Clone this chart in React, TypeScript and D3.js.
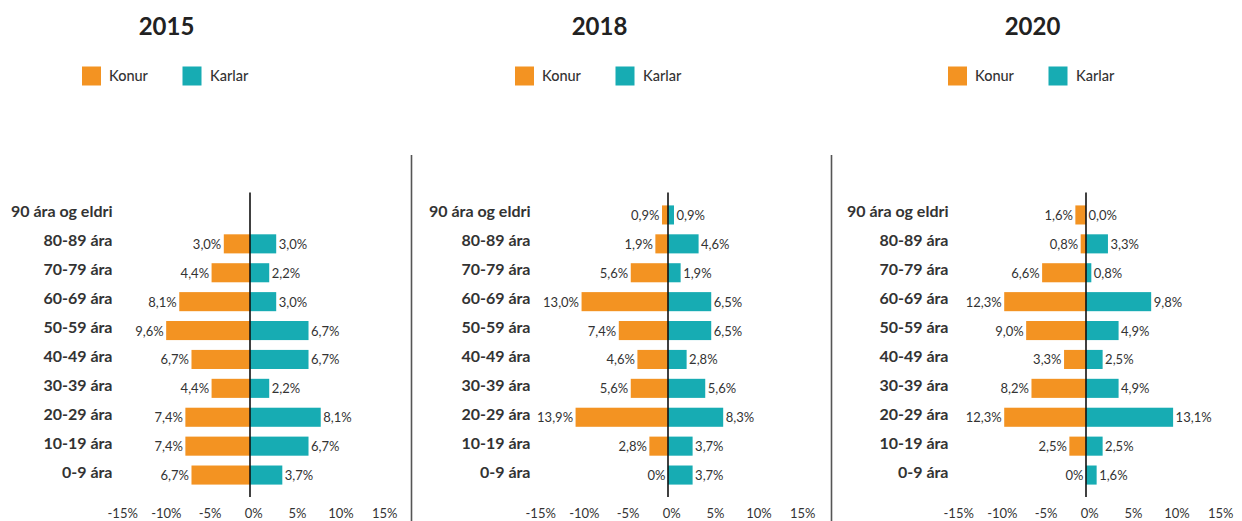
import React from "react";
import * as d3 from "d3";

const categories = [
  "90 ára og eldri",
  "80-89 ára",
  "70-79 ára",
  "60-69 ára",
  "50-59 ára",
  "40-49 ára",
  "30-39 ára",
  "20-29 ára",
  "10-19 ára",
  "0-9 ára",
];

const years = ["2015", "2018", "2020"];
const seriesNames = ["Konur", "Karlar"];

const women2015: (number | null)[] = [null, 3.0, 4.4, 8.1, 9.6, 6.7, 4.4, 7.4, 7.4, 6.7];
const men2015: (number | null)[] = [null, 3.0, 2.2, 3.0, 6.7, 6.7, 2.2, 8.1, 6.7, 3.7];
const women2018: (number | null)[] = [0.9, 1.9, 5.6, 13.0, 7.4, 4.6, 5.6, 13.9, 2.8, 0];
const men2018: (number | null)[] = [0.9, 4.6, 1.9, 6.5, 6.5, 2.8, 5.6, 8.3, 3.7, 3.7];
const women2020: (number | null)[] = [1.6, 0.8, 6.6, 12.3, 9.0, 3.3, 8.2, 12.3, 2.5, 0];
const men2020: (number | null)[] = [0.0, 3.3, 0.8, 9.8, 4.9, 2.5, 4.9, 13.1, 2.5, 1.6];

// bar scale extent per panel (as drawn in the source)
const barExtent = [15, 19.7, 19.7];
const tickValues = [-15, -10, -5, 0, 5, 10, 15];

const womenData = [women2015, women2018, women2020];
const menData = [men2015, men2018, men2020];

const ORANGE = "#F39322";
const TEAL = "#17ACB3";
const TEXT = "#333333";
const FONT = "Lato, 'Open Sans', sans-serif";

const fmt = d3.format(".1f");
const label = (v: number, women: boolean) =>
  v === 0 && women ? "0%" : fmt(v).replace(".", ",") + "%";

function Panel({ idx }: { idx: number }) {
  const dx = idx * 418;
  const tdx = idx * 433;
  const zero = 250 + dx;
  const x = d3
    .scaleLinear()
    .domain([-barExtent[idx], barExtent[idx]])
    .range([zero - 131, zero + 131]);
  const axis = d3.scaleLinear().domain([-15, 15]).range([122.7 + dx, 384.7 + dx]);
  const y = d3.scaleBand<string>().domain(categories).range([200.5, 489.5]).paddingInner(0.34).paddingOuter(0.17);
  const bh = y.bandwidth();
  const women = womenData[idx];
  const men = menData[idx];
  return (
    <g>
      <text x={166.5 + tdx} y={35} textAnchor="middle" fontFamily={FONT} fontWeight={700} fontSize={24} fill="#222">
        {years[idx]}
      </text>
      {/* legend */}
      <rect x={82 + tdx} y={66.5} width={19} height={19} fill={ORANGE} />
      <text x={109 + tdx} y={81} fontFamily={FONT} fontSize={14.5} fontWeight={500} fill={TEXT}>
        {seriesNames[0]}
      </text>
      <rect x={182.5 + tdx} y={66.5} width={19} height={19} fill={TEAL} />
      <text x={210 + tdx} y={81} fontFamily={FONT} fontSize={14.5} fontWeight={500} fill={TEXT}>
        {seriesNames[1]}
      </text>
      {categories.map((c, i) => {
        const yc = (y(c) as number) + bh / 2;
        const w = women[i];
        const m = men[i];
        return (
          <g key={c}>
            <text x={112.5 + dx} y={yc + 2.5} textAnchor="end" fontFamily={FONT} fontWeight={700} fontSize={16} fill={TEXT}>
              {c}
            </text>
            {w !== null && (
              <>
                <rect x={x(-w)} y={y(c)} width={x(0) - x(-w)} height={bh} fill={ORANGE} />
                <text x={x(-w) - 2.5} y={yc + 5} textAnchor="end" fontFamily={FONT} fontSize={13} fill={TEXT}>
                  {label(w, true)}
                </text>
              </>
            )}
            {m !== null && (
              <>
                <rect x={x(0)} y={y(c)} width={x(m) - x(0)} height={bh} fill={TEAL} />
                <text x={x(m) + 2.5} y={yc + 5} textAnchor="start" fontFamily={FONT} fontSize={13} fill={TEXT}>
                  {label(m, false)}
                </text>
              </>
            )}
          </g>
        );
      })}
      <line x1={zero} x2={zero} y1={192.5} y2={497} stroke="#111" strokeWidth={1.6} />
      {tickValues.map((t) => (
        <text key={t} x={axis(t)} y={518} textAnchor="middle" fontFamily={FONT} fontSize={13} fill={TEXT}>
          {t + "%"}
        </text>
      ))}
    </g>
  );
}

export default function App() {
  return (
    <svg
      width={1242}
      height={521}
      style={{ position: "absolute", left: 0, top: 0, background: "#fff" }}
    >
      <rect width={1242} height={521} fill="#fff" />
      <line x1={411.5} x2={411.5} y1={155} y2={521} stroke="#555" strokeWidth={1.6} />
      <line x1={831.5} x2={831.5} y1={155} y2={521} stroke="#555" strokeWidth={1.6} />
      {[0, 1, 2].map((i) => (
        <Panel key={i} idx={i} />
      ))}
    </svg>
  );
}
